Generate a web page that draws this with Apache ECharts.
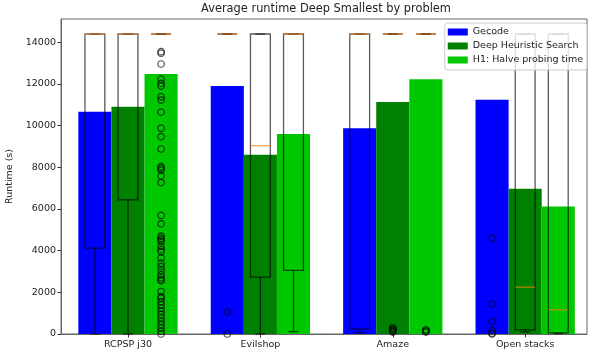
<!DOCTYPE html>
<html><head><meta charset="utf-8">
<script src="https://cdn.jsdelivr.net/npm/echarts@6/dist/echarts.min.js"></script>
<style>html,body{margin:0;padding:0;background:#fff}#c{width:594px;height:356px}</style>
</head><body><div id="c"></div><script>
// ---- data ----
var categories = ['RCPSP j30', 'Evilshop', 'Amaze', 'Open stacks'];
var seriesNames = ['Gecode', 'Deep Heuristic Search', 'H1: Halve probing time'];
var yTicks = [0, 2000, 4000, 6000, 8000, 10000, 12000, 14000];

// mean runtime (bar heights)
var gecodeMean = [10670, 11900, 9880, 11250];
var dhsMean    = [10910, 8610, 11140, 6970];
var h1Mean     = [12480, 9600, 12230, 6120];

// boxplot stats per category: [low whisker, Q1, median, Q3, high whisker]
var gecodeBox = [[0, 4120, 14400, 14400, 14400], [14400, 14400, 14400, 14400, 14400], [60, 250, 14400, 14400, 14400], [14400, 14400, 14400, 14400, 14400]];
var dhsBox    = [[0, 6440, 14400, 14400, 14400], [0, 2730, 9040, 14400, 14400], [14400, 14400, 14400, 14400, 14400], [100, 200, 2250, 14400, 14400]];
var h1Box     = [[14400, 14400, 14400, 14400, 14400], [110, 3050, 14400, 14400, 14400], [14400, 14400, 14400, 14400, 14400], [20, 50, 1165, 14400, 14400]];

// outliers per category
var gecodeOut = [[], [1055, 0], [], [4600, 1440, 600, 150, 40, 0]];
var dhsOut    = [[], [], [300, 240, 190, 140, 90], []];
var h1Out     = [[13550, 13480, 12960, 12230, 12030, 11900, 11390, 11230, 10650, 9880, 9470, 8880, 8030, 7960, 7870, 7590, 7270,
                  5690, 5290, 4700, 4600, 4520, 4430, 4200, 4050, 3950, 3650, 3400, 3230, 3050, 2850, 2700, 2600, 2550,
                  2040, 1800, 1720, 1560, 1400, 1240, 1090, 930, 770, 610, 450, 290, 130, 0], [], [200, 140, 90], []];

var colors = ['#0000ff', '#008000', '#00c800'];
var offsets = [-0.25, 0, 0.25];
var BW = 0.25, BOXW = 0.15;

var means = [gecodeMean, dhsMean, h1Mean];
var boxes = [gecodeBox, dhsBox, h1Box];
var outs = [gecodeOut, dhsOut, h1Out];

function barRender(offset) {
  return function (params, api) {
    var x = api.value(0) + offset, y = api.value(1);
    var p0 = api.coord([x - BW / 2, y]);
    var p1 = api.coord([x + BW / 2, 0]);
    return { type: 'rect', shape: { x: p0[0], y: p0[1], width: p1[0] - p0[0], height: p1[1] - p0[1] },
             style: { fill: api.visual('color') } };
  };
}
function boxRender(offset) {
  return function (params, api) {
    var cx = api.value(0) + offset;
    var lo = api.value(1), q1 = api.value(2), md = api.value(3), q3 = api.value(4), hi = api.value(5);
    var xl = api.coord([cx - BOXW / 2, 0])[0], xr = api.coord([cx + BOXW / 2, 0])[0];
    var cl = api.coord([cx - BOXW / 4, 0])[0], cr = api.coord([cx + BOXW / 4, 0])[0];
    var xc = api.coord([cx, 0])[0];
    var yl = api.coord([cx, lo])[1], y1 = api.coord([cx, q1])[1], ym = api.coord([cx, md])[1],
        y3 = api.coord([cx, q3])[1], yh = api.coord([cx, hi])[1];
    var ls = { stroke: 'rgba(0,0,0,0.65)', lineWidth: 1.3, fill: null };
    var ch = [
      { type: 'rect', shape: { x: xl, y: y3, width: xr - xl, height: y1 - y3 }, style: ls },
      { type: 'line', shape: { x1: xc, y1: y1, x2: xc, y2: yl }, style: ls },
      { type: 'line', shape: { x1: cl, y1: yl, x2: cr, y2: yl }, style: ls },
      { type: 'line', shape: { x1: xc, y1: y3, x2: xc, y2: yh }, style: ls },
      { type: 'line', shape: { x1: cl, y1: yh, x2: cr, y2: yh }, style: ls },
      { type: 'line', shape: { x1: xl, y1: ym, x2: xr, y2: ym }, style: { stroke: 'rgba(255,127,14,0.7)', lineWidth: 1.3 } }
    ];
    return { type: 'group', children: ch };
  };
}

var series = [];
for (var s = 0; s < 3; s++) {
  series.push({
    name: seriesNames[s], type: 'custom', z: 2,
    itemStyle: { color: colors[s] },
    renderItem: barRender(offsets[s]),
    encode: { x: 0, y: 1 },
    data: categories.map(function (c, i) { return [i, means[s][i]]; })
  });
}
for (var s2 = 0; s2 < 3; s2++) {
  series.push({
    name: 'box' + s2, type: 'custom', z: 3, silent: true,
    renderItem: boxRender(offsets[s2]),
    encode: { x: 0, y: [1, 2, 3, 4, 5] },
    data: categories.map(function (c, i) { return [i].concat(boxes[s2][i]); })
  });
  var od = [];
  outs[s2].forEach(function (arr, i) { arr.forEach(function (v) { od.push([i + offsets[s2], v]); }); });
  series.push({
    name: 'out' + s2, type: 'scatter', z: 4, silent: true,
    symbol: 'circle', symbolSize: 6.5,
    itemStyle: { color: 'rgba(0,0,0,0)', borderColor: 'rgba(0,0,0,0.85)', borderWidth: 1.2 },
    data: od
  });
}

var chart = echarts.init(document.getElementById('c'), null, { renderer: 'canvas' });
chart.setOption({
  animation: false,
  textStyle: { fontFamily: 'DejaVu Sans' },
  graphic: [{
    type: 'text', x: 326, y: 9, z: 10,
    style: { text: 'Average runtime Deep Smallest by problem', font: "11.4px 'DejaVu Sans'", fill: '#222',
             textAlign: 'center', textVerticalAlign: 'middle' }
  }],
  legend: {
    data: seriesNames.map(function (n) { return { name: n, icon: 'rect' }; }),
    orient: 'vertical', right: 7, top: 23,
    itemWidth: 20, itemHeight: 7, itemGap: 4,
    padding: [4, 4, 5, 3],
    backgroundColor: 'rgba(255,255,255,0.8)', borderColor: '#ccc', borderWidth: 1, borderRadius: 3,
    textStyle: { fontFamily: 'DejaVu Sans', fontSize: 9.5, color: '#222' }
  },
  grid: { left: 61, right: 7, top: 19, bottom: 22, show: true, borderColor: '#666', borderWidth: 1,
          backgroundColor: 'transparent', outerBoundsMode: 'none', containLabel: false },
  xAxis: {
    type: 'value', min: -0.506, max: 3.467,
    axisLine: { show: true, onZero: false, lineStyle: { color: '#666' } },
    splitLine: { show: false },
    axisTick: { show: true, customValues: [0, 1, 2, 3], length: 3.5, lineStyle: { color: '#333' } },
    axisLabel: { customValues: [0, 1, 2, 3], formatter: function (v) { return categories[Math.round(v)]; },
                 fontFamily: 'DejaVu Sans', fontSize: 9.5, color: '#222', margin: 6 }
  },
  yAxis: {
    type: 'value', min: 0, max: 15120,
    name: 'Runtime (s)', nameLocation: 'middle', nameGap: 37,
    nameTextStyle: { fontFamily: 'DejaVu Sans', fontSize: 9.5, color: '#222' },
    axisLine: { show: true, onZero: false, lineStyle: { color: '#666' } },
    splitLine: { show: false },
    axisTick: { show: true, customValues: yTicks, length: 3.5, lineStyle: { color: '#333' } },
    axisLabel: { customValues: yTicks, formatter: function (v) { return String(v); },
                 fontFamily: 'DejaVu Sans', fontSize: 9.5, color: '#222', margin: 5 }
  },
  series: series
});
</script></body></html>
